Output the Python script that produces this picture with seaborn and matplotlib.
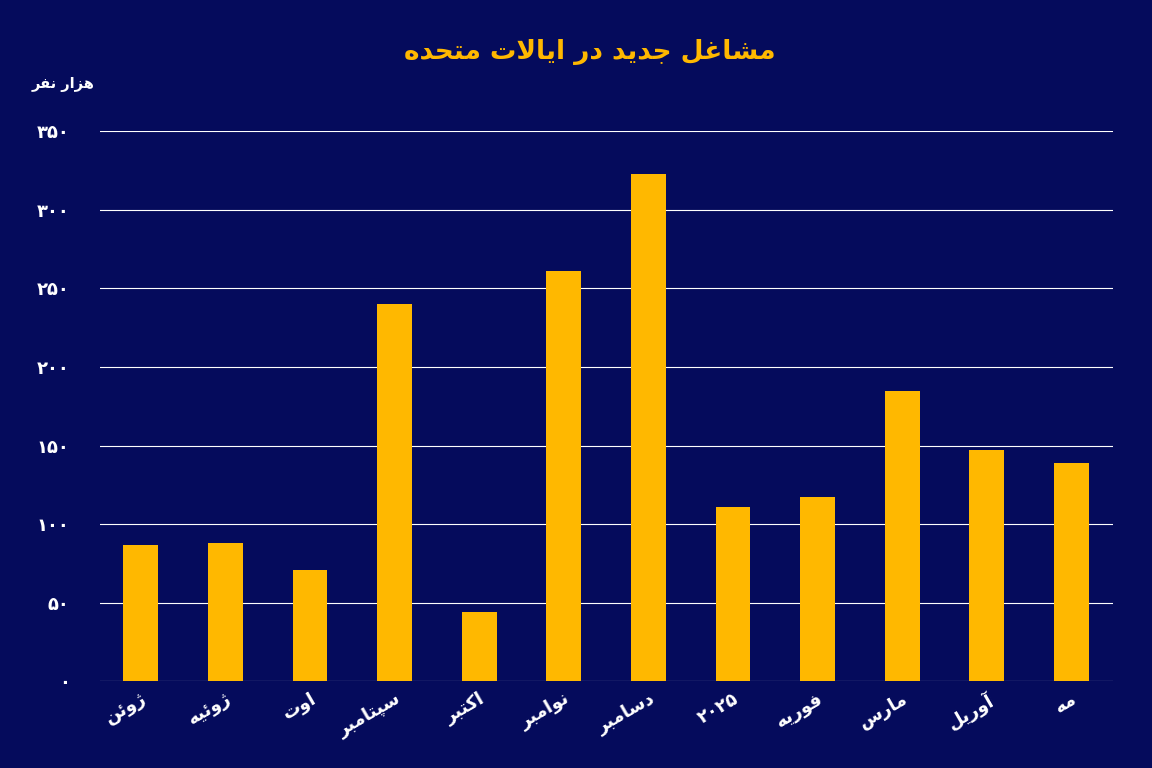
import re
import matplotlib
matplotlib.use("Agg")
import matplotlib.pyplot as plt
import seaborn as sns
import pandas as pd

months = ["ژوئن", "ژوئیه", "اوت", "سپتامبر", "اکتبر", "نوامبر", "دسامبر", "۲۰۲۵", "فوریه", "مارس", "آوریل", "مه"]
jobs = [87, 88, 71, 240, 44, 261, 323, 111, 117, 185, 147, 139]
yticks = [0, 50, 100, 150, 200, 250, 300, 350]
title = "مشاغل جدید در ایالات متحده"
unit = "هزار نفر"

FORMS = {
    'ا': (0xFE8D, 0xFE8E, None, None), 'آ': (0xFE81, 0xFE82, None, None),
    'ب': (0xFE8F, 0xFE90, 0xFE91, 0xFE92), 'پ': (0xFB56, 0xFB57, 0xFB58, 0xFB59),
    'ت': (0xFE95, 0xFE96, 0xFE97, 0xFE98), 'ج': (0xFE9D, 0xFE9E, 0xFE9F, 0xFEA0),
    'ح': (0xFEA1, 0xFEA2, 0xFEA3, 0xFEA4), 'د': (0xFEA9, 0xFEAA, None, None),
    'ر': (0xFEAD, 0xFEAE, None, None), 'ز': (0xFEAF, 0xFEB0, None, None),
    'ژ': (0xFB8A, 0xFB8B, None, None), 'س': (0xFEB1, 0xFEB2, 0xFEB3, 0xFEB4),
    'ش': (0xFEB5, 0xFEB6, 0xFEB7, 0xFEB8), 'غ': (0xFECD, 0xFECE, 0xFECF, 0xFED0),
    'ف': (0xFED1, 0xFED2, 0xFED3, 0xFED4), 'ک': (0xFB8E, 0xFB8F, 0xFB90, 0xFB91),
    'ل': (0xFEDD, 0xFEDE, 0xFEDF, 0xFEE0), 'م': (0xFEE1, 0xFEE2, 0xFEE3, 0xFEE4),
    'ن': (0xFEE5, 0xFEE6, 0xFEE7, 0xFEE8), 'و': (0xFEED, 0xFEEE, None, None),
    'ه': (0xFEE9, 0xFEEA, 0xFEEB, 0xFEEC), 'ی': (0xFBFC, 0xFBFD, 0xFBFE, 0xFBFF),
    'ئ': (0xFE89, 0xFE8A, 0xFE8B, 0xFE8C),
    'LA': (0xFEFB, 0xFEFC, None, None),
}

def shape(s):
    s = s.replace('لا', '\x01')
    chars = list(s)
    def key(c):
        return 'LA' if c == '\x01' else c
    out = []
    for i, c in enumerate(chars):
        k = key(c)
        if k not in FORMS:
            out.append(c); continue
        f = FORMS[k]
        prev = key(chars[i-1]) if i > 0 else None
        nxt = key(chars[i+1]) if i + 1 < len(chars) else None
        jp = prev in FORMS and FORMS[prev][2] is not None
        jn = nxt in FORMS and f[2] is not None
        if jp and jn: g = f[3]
        elif jp: g = f[1]
        elif jn: g = f[2]
        else: g = f[0]
        out.append(chr(g))
    r = ''.join(out)[::-1]
    return re.sub(r'[0-9۰-۹]+', lambda m: m.group(0)[::-1], r)

fa = str.maketrans("0123456789", "۰۱۲۳۴۵۶۷۸۹")
bg = "#050b5c"
gold = "#ffb800"
plt.rcParams["font.family"] = "DejaVu Sans"

fig = plt.figure(figsize=(11.52, 7.68), dpi=100, facecolor=bg)
ax = fig.add_axes([0.087, 0.113, 0.879, 0.716], facecolor=bg)
df = pd.DataFrame({"m": [shape(m) for m in months], "v": jobs})
sns.barplot(data=df, x="m", y="v", color=gold, width=0.41, saturation=1, ax=ax, zorder=3)
ax.set_ylim(0, 350)
ax.set_xlim(-0.48, 11.49)
ax.set_yticks(yticks)
ax.set_yticklabels([str(t).translate(fa) for t in yticks], color="white", fontsize=13, fontweight="bold")
ax.yaxis.grid(True, color="white", linewidth=0.8, zorder=0)
ax.set_axisbelow(True)
for s in ax.spines.values():
    s.set_visible(False)
ax.tick_params(length=0, pad=22, axis="y")
ax.tick_params(length=0, pad=6, axis="x")
for lab in ax.get_xticklabels():
    lab.set_rotation(30); lab.set_ha("right"); lab.set_rotation_mode("anchor")
    lab.set_color("white"); lab.set_fontsize(13); lab.set_fontweight("bold")
ax.set_xlabel(""); ax.set_ylabel("")
fig.text(0.512, 0.932, shape(title), color=gold, fontsize=19, fontweight="bold", ha="center", va="center")
fig.text(0.055, 0.89, shape(unit), color="white", fontsize=10.5, fontweight="bold", ha="center", va="center")
fig.savefig("out.png", dpi=100, facecolor=bg)
